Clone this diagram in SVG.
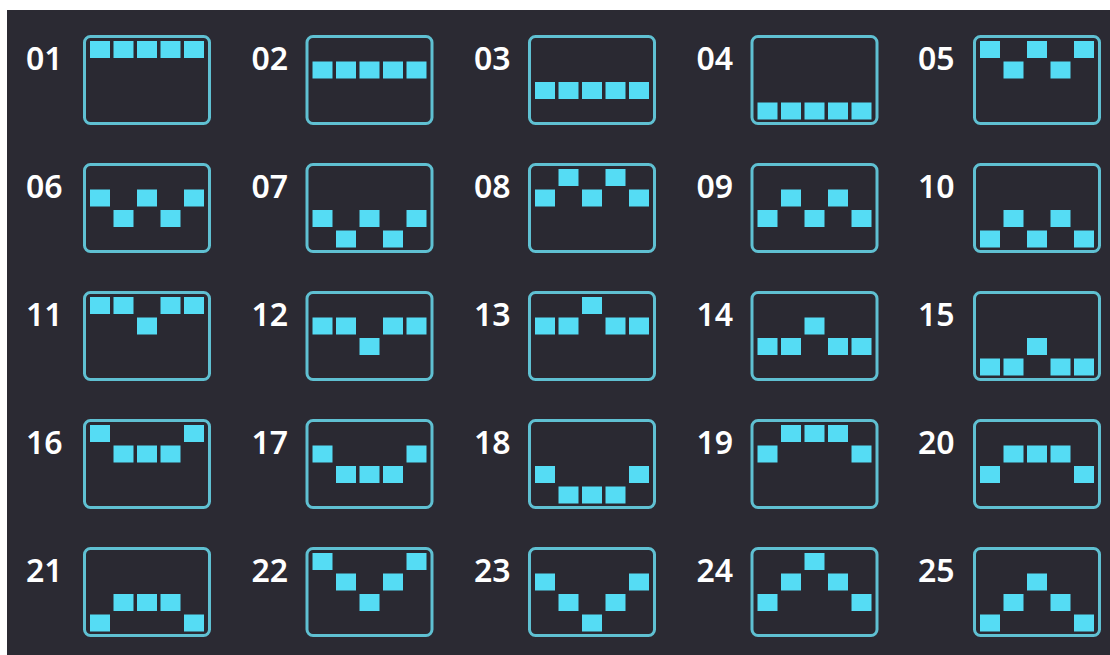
<svg xmlns="http://www.w3.org/2000/svg" width="1110" height="655" viewBox="0 0 1110 655">
<style>
.bg{fill:#2b2a33}
.box{fill:#2a2932;stroke:#5fc0d2;stroke-width:3}
.sq{fill:#55dcf4}
.lbl{fill:#ffffff;font-family:"Noto Sans","DejaVu Sans",sans-serif;font-size:32px;font-weight:600}
</style>
<defs>
<rect id="frame" class="box" x="1.5" y="1.5" width="125" height="87" rx="6"/>
</defs>
<rect x="0" y="0" width="1110" height="655" fill="#ffffff"/>
<rect class="bg" x="7" y="10" width="1103" height="645"/>
<g id="connectors"/>
<g id="n01" transform="translate(83,35)"><text class="lbl" x="-57" y="35">01</text><use href="#frame"/><rect class="sq" x="7" y="6" width="20" height="17"/><rect class="sq" x="30.5" y="6" width="20" height="17"/><rect class="sq" x="54" y="6" width="20" height="17"/><rect class="sq" x="77.5" y="6" width="20" height="17"/><rect class="sq" x="101" y="6" width="20" height="17"/></g>
<g id="n02" transform="translate(305.5,35)"><text class="lbl" x="-54" y="35">02</text><use href="#frame"/><rect class="sq" x="7" y="26.5" width="20" height="17"/><rect class="sq" x="30.5" y="26.5" width="20" height="17"/><rect class="sq" x="54" y="26.5" width="20" height="17"/><rect class="sq" x="77.5" y="26.5" width="20" height="17"/><rect class="sq" x="101" y="26.5" width="20" height="17"/></g>
<g id="n03" transform="translate(528,35)"><text class="lbl" x="-54" y="35">03</text><use href="#frame"/><rect class="sq" x="7" y="47" width="20" height="17"/><rect class="sq" x="30.5" y="47" width="20" height="17"/><rect class="sq" x="54" y="47" width="20" height="17"/><rect class="sq" x="77.5" y="47" width="20" height="17"/><rect class="sq" x="101" y="47" width="20" height="17"/></g>
<g id="n04" transform="translate(750.5,35)"><text class="lbl" x="-54" y="35">04</text><use href="#frame"/><rect class="sq" x="7" y="67.5" width="20" height="17"/><rect class="sq" x="30.5" y="67.5" width="20" height="17"/><rect class="sq" x="54" y="67.5" width="20" height="17"/><rect class="sq" x="77.5" y="67.5" width="20" height="17"/><rect class="sq" x="101" y="67.5" width="20" height="17"/></g>
<g id="n05" transform="translate(973,35)"><text class="lbl" x="-55" y="35">05</text><use href="#frame"/><rect class="sq" x="7" y="6" width="20" height="17"/><rect class="sq" x="30.5" y="26.5" width="20" height="17"/><rect class="sq" x="54" y="6" width="20" height="17"/><rect class="sq" x="77.5" y="26.5" width="20" height="17"/><rect class="sq" x="101" y="6" width="20" height="17"/></g>

<g id="n06" transform="translate(83,163)"><text class="lbl" x="-57" y="35">06</text><use href="#frame"/><rect class="sq" x="7" y="26.5" width="20" height="17"/><rect class="sq" x="30.5" y="47" width="20" height="17"/><rect class="sq" x="54" y="26.5" width="20" height="17"/><rect class="sq" x="77.5" y="47" width="20" height="17"/><rect class="sq" x="101" y="26.5" width="20" height="17"/></g>
<g id="n07" transform="translate(305.5,163)"><text class="lbl" x="-54" y="35">07</text><use href="#frame"/><rect class="sq" x="7" y="47" width="20" height="17"/><rect class="sq" x="30.5" y="67.5" width="20" height="17"/><rect class="sq" x="54" y="47" width="20" height="17"/><rect class="sq" x="77.5" y="67.5" width="20" height="17"/><rect class="sq" x="101" y="47" width="20" height="17"/></g>
<g id="n08" transform="translate(528,163)"><text class="lbl" x="-54" y="35">08</text><use href="#frame"/><rect class="sq" x="7" y="26.5" width="20" height="17"/><rect class="sq" x="30.5" y="6" width="20" height="17"/><rect class="sq" x="54" y="26.5" width="20" height="17"/><rect class="sq" x="77.5" y="6" width="20" height="17"/><rect class="sq" x="101" y="26.5" width="20" height="17"/></g>
<g id="n09" transform="translate(750.5,163)"><text class="lbl" x="-54" y="35">09</text><use href="#frame"/><rect class="sq" x="7" y="47" width="20" height="17"/><rect class="sq" x="30.5" y="26.5" width="20" height="17"/><rect class="sq" x="54" y="47" width="20" height="17"/><rect class="sq" x="77.5" y="26.5" width="20" height="17"/><rect class="sq" x="101" y="47" width="20" height="17"/></g>
<g id="n10" transform="translate(973,163)"><text class="lbl" x="-55" y="35">10</text><use href="#frame"/><rect class="sq" x="7" y="67.5" width="20" height="17"/><rect class="sq" x="30.5" y="47" width="20" height="17"/><rect class="sq" x="54" y="67.5" width="20" height="17"/><rect class="sq" x="77.5" y="47" width="20" height="17"/><rect class="sq" x="101" y="67.5" width="20" height="17"/></g>

<g id="n11" transform="translate(83,291)"><text class="lbl" x="-57" y="35">11</text><use href="#frame"/><rect class="sq" x="7" y="6" width="20" height="17"/><rect class="sq" x="30.5" y="6" width="20" height="17"/><rect class="sq" x="54" y="26.5" width="20" height="17"/><rect class="sq" x="77.5" y="6" width="20" height="17"/><rect class="sq" x="101" y="6" width="20" height="17"/></g>
<g id="n12" transform="translate(305.5,291)"><text class="lbl" x="-54" y="35">12</text><use href="#frame"/><rect class="sq" x="7" y="26.5" width="20" height="17"/><rect class="sq" x="30.5" y="26.5" width="20" height="17"/><rect class="sq" x="54" y="47" width="20" height="17"/><rect class="sq" x="77.5" y="26.5" width="20" height="17"/><rect class="sq" x="101" y="26.5" width="20" height="17"/></g>
<g id="n13" transform="translate(528,291)"><text class="lbl" x="-54" y="35">13</text><use href="#frame"/><rect class="sq" x="7" y="26.5" width="20" height="17"/><rect class="sq" x="30.5" y="26.5" width="20" height="17"/><rect class="sq" x="54" y="6" width="20" height="17"/><rect class="sq" x="77.5" y="26.5" width="20" height="17"/><rect class="sq" x="101" y="26.5" width="20" height="17"/></g>
<g id="n14" transform="translate(750.5,291)"><text class="lbl" x="-54" y="35">14</text><use href="#frame"/><rect class="sq" x="7" y="47" width="20" height="17"/><rect class="sq" x="30.5" y="47" width="20" height="17"/><rect class="sq" x="54" y="26.5" width="20" height="17"/><rect class="sq" x="77.5" y="47" width="20" height="17"/><rect class="sq" x="101" y="47" width="20" height="17"/></g>
<g id="n15" transform="translate(973,291)"><text class="lbl" x="-55" y="35">15</text><use href="#frame"/><rect class="sq" x="7" y="67.5" width="20" height="17"/><rect class="sq" x="30.5" y="67.5" width="20" height="17"/><rect class="sq" x="54" y="47" width="20" height="17"/><rect class="sq" x="77.5" y="67.5" width="20" height="17"/><rect class="sq" x="101" y="67.5" width="20" height="17"/></g>

<g id="n16" transform="translate(83,419)"><text class="lbl" x="-57" y="35">16</text><use href="#frame"/><rect class="sq" x="7" y="6" width="20" height="17"/><rect class="sq" x="30.5" y="26.5" width="20" height="17"/><rect class="sq" x="54" y="26.5" width="20" height="17"/><rect class="sq" x="77.5" y="26.5" width="20" height="17"/><rect class="sq" x="101" y="6" width="20" height="17"/></g>
<g id="n17" transform="translate(305.5,419)"><text class="lbl" x="-54" y="35">17</text><use href="#frame"/><rect class="sq" x="7" y="26.5" width="20" height="17"/><rect class="sq" x="30.5" y="47" width="20" height="17"/><rect class="sq" x="54" y="47" width="20" height="17"/><rect class="sq" x="77.5" y="47" width="20" height="17"/><rect class="sq" x="101" y="26.5" width="20" height="17"/></g>
<g id="n18" transform="translate(528,419)"><text class="lbl" x="-54" y="35">18</text><use href="#frame"/><rect class="sq" x="7" y="47" width="20" height="17"/><rect class="sq" x="30.5" y="67.5" width="20" height="17"/><rect class="sq" x="54" y="67.5" width="20" height="17"/><rect class="sq" x="77.5" y="67.5" width="20" height="17"/><rect class="sq" x="101" y="47" width="20" height="17"/></g>
<g id="n19" transform="translate(750.5,419)"><text class="lbl" x="-54" y="35">19</text><use href="#frame"/><rect class="sq" x="7" y="26.5" width="20" height="17"/><rect class="sq" x="30.5" y="6" width="20" height="17"/><rect class="sq" x="54" y="6" width="20" height="17"/><rect class="sq" x="77.5" y="6" width="20" height="17"/><rect class="sq" x="101" y="26.5" width="20" height="17"/></g>
<g id="n20" transform="translate(973,419)"><text class="lbl" x="-55" y="35">20</text><use href="#frame"/><rect class="sq" x="7" y="47" width="20" height="17"/><rect class="sq" x="30.5" y="26.5" width="20" height="17"/><rect class="sq" x="54" y="26.5" width="20" height="17"/><rect class="sq" x="77.5" y="26.5" width="20" height="17"/><rect class="sq" x="101" y="47" width="20" height="17"/></g>

<g id="n21" transform="translate(83,547)"><text class="lbl" x="-57" y="35">21</text><use href="#frame"/><rect class="sq" x="7" y="67.5" width="20" height="17"/><rect class="sq" x="30.5" y="47" width="20" height="17"/><rect class="sq" x="54" y="47" width="20" height="17"/><rect class="sq" x="77.5" y="47" width="20" height="17"/><rect class="sq" x="101" y="67.5" width="20" height="17"/></g>
<g id="n22" transform="translate(305.5,547)"><text class="lbl" x="-54" y="35">22</text><use href="#frame"/><rect class="sq" x="7" y="6" width="20" height="17"/><rect class="sq" x="30.5" y="26.5" width="20" height="17"/><rect class="sq" x="54" y="47" width="20" height="17"/><rect class="sq" x="77.5" y="26.5" width="20" height="17"/><rect class="sq" x="101" y="6" width="20" height="17"/></g>
<g id="n23" transform="translate(528,547)"><text class="lbl" x="-54" y="35">23</text><use href="#frame"/><rect class="sq" x="7" y="26.5" width="20" height="17"/><rect class="sq" x="30.5" y="47" width="20" height="17"/><rect class="sq" x="54" y="67.5" width="20" height="17"/><rect class="sq" x="77.5" y="47" width="20" height="17"/><rect class="sq" x="101" y="26.5" width="20" height="17"/></g>
<g id="n24" transform="translate(750.5,547)"><text class="lbl" x="-54" y="35">24</text><use href="#frame"/><rect class="sq" x="7" y="47" width="20" height="17"/><rect class="sq" x="30.5" y="26.5" width="20" height="17"/><rect class="sq" x="54" y="6" width="20" height="17"/><rect class="sq" x="77.5" y="26.5" width="20" height="17"/><rect class="sq" x="101" y="47" width="20" height="17"/></g>
<g id="n25" transform="translate(973,547)"><text class="lbl" x="-55" y="35">25</text><use href="#frame"/><rect class="sq" x="7" y="67.5" width="20" height="17"/><rect class="sq" x="30.5" y="47" width="20" height="17"/><rect class="sq" x="54" y="26.5" width="20" height="17"/><rect class="sq" x="77.5" y="47" width="20" height="17"/><rect class="sq" x="101" y="67.5" width="20" height="17"/></g>
</svg>
